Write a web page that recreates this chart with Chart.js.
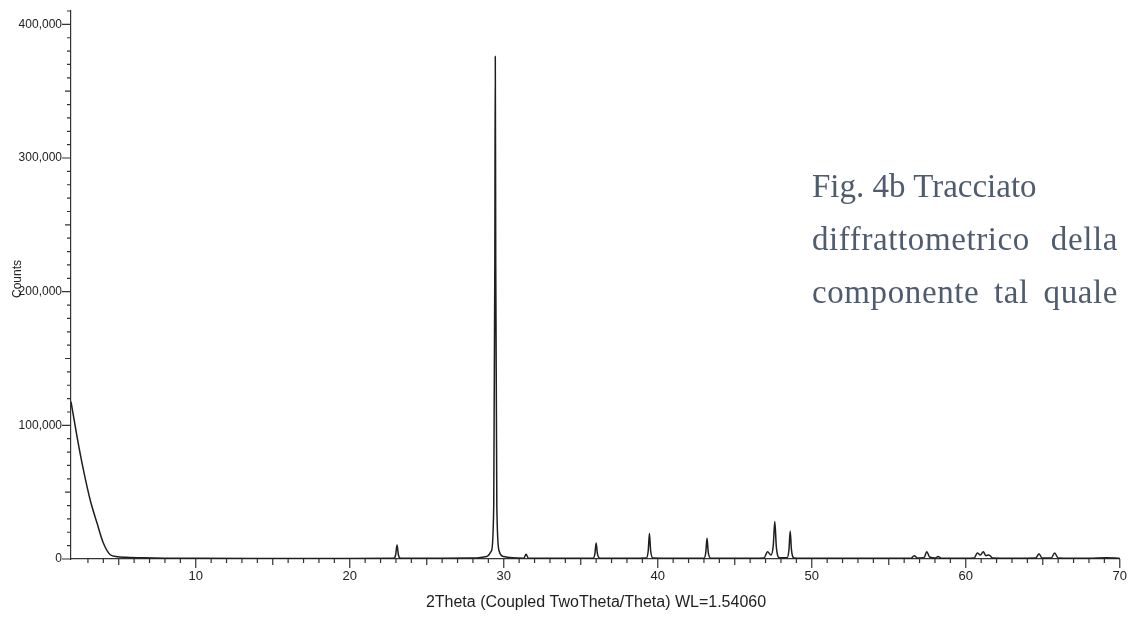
<!DOCTYPE html>
<html>
<head>
<meta charset="utf-8">
<script src="https://cdn.jsdelivr.net/npm/chart.js@4/dist/chart.umd.min.js"></script>
<style>
  html, body { margin:0; padding:0; background:#fff; }
  #wrap { position:relative; width:1128px; height:621px; }
  #note { position:absolute; left:812px; top:160px; width:306px;
          font-family:"Liberation Serif","DejaVu Serif",serif; font-size:33px;
          color:#4f5b6e; line-height:53px; white-space:nowrap; }
  #note div.j { text-align:justify; text-align-last:justify; letter-spacing:0.6px; }
</style>
</head>
<body>
<div id="wrap">
  <canvas id="xrd" width="1128" height="621"></canvas>
  <div id="note">
    <div>Fig. 4b Tracciato</div>
    <div class="j">diffrattometrico della</div>
    <div class="j">componente tal quale</div>
  </div>
</div>
<script>
// XRD pattern
const twoTheta = [
  1.9, 2.3, 2.7, 3.15, 3.6, 4.0, 4.45, 4.9, 5.5, 6.6, 8, 10, 14, 18, 20,
  22.85, 22.98, 23.07, 23.16, 23.3, 26, 28,
  28.9, 29.2, 29.35, 29.42, 29.45, 29.48, 29.55, 29.7, 30.0,
  31.3, 31.45, 31.6, 33,
  35.8, 35.92, 36.0, 36.08, 36.25, 38,
  39.25, 39.38, 39.46, 39.54, 39.7, 41,
  43.0, 43.12, 43.2, 43.28, 43.45, 45,
  46.9, 47.13, 47.35, 47.5, 47.6, 47.7, 47.9,
  48.4, 48.52, 48.6, 48.68, 48.85, 50, 54,
  56.45, 56.65, 56.85, 57.3, 57.47, 57.65, 58.05, 58.2, 58.4, 60,
  60.55, 60.75, 60.95, 61.14, 61.3, 61.5, 61.75, 63,
  64.55, 64.75, 64.95, 65.55, 65.77, 66.0, 68, 69.1, 70
];
const counts = [
  117700, 91000, 67000, 44000, 26500, 12000, 3200, 1700, 1300, 900, 600, 500, 400, 400, 400,
  500, 3000, 10500, 3000, 500, 500, 700,
  1800, 6000, 40000, 220000, 376000, 220000, 40000, 6000, 1800,
  600, 3500, 600, 500,
  600, 4000, 12000, 4000, 600, 500,
  700, 6000, 19000, 6000, 700, 500,
  600, 5000, 15500, 5000, 600, 500,
  800, 5500, 3000, 10000, 28000, 9000, 1000,
  1000, 7000, 21000, 7000, 800, 500, 500,
  600, 2500, 700, 1200, 5500, 1500, 800, 1800, 600, 500,
  800, 4500, 3000, 5500, 2500, 3000, 700, 500,
  700, 4000, 800, 800, 4500, 800, 500, 1000, 500
];
const xLabelTicks = [10, 20, 30, 40, 50, 60, 70];
const yLabelTicks = [0, 100000, 200000, 300000, 400000];
const xTitle = '2Theta (Coupled TwoTheta/Theta) WL=1.54060';
const yTitle = 'Counts';

const axisColor = '#333';

// draws minor/major tick marks and the two axis titles
const xrdDecor = {
  id: 'xrdDecor',
  afterDraw(chart) {
    const ctx = chart.ctx, xs = chart.scales.x, ys = chart.scales.y, a = chart.chartArea;
    ctx.save();
    ctx.strokeStyle = axisColor;
    ctx.lineWidth = 1.2;
    ctx.beginPath();
    xs.ticks.forEach(t => {
      const v = Math.round(t.value);
      if (Math.abs(t.value - v) > 1e-6) return;
      const len = v % 10 === 0 ? 9 : (v % 5 === 0 ? 6 : 4);
      const px = xs.getPixelForValue(v);
      ctx.moveTo(px, a.bottom); ctx.lineTo(px, a.bottom + len);
    });
    ys.ticks.forEach(t => {
      const v = t.value;
      const len = v % 100000 === 0 ? 9 : (v % 50000 === 0 ? 6 : 4);
      const py = ys.getPixelForValue(v);
      ctx.moveTo(a.left - len, py); ctx.lineTo(a.left, py);
    });
    ctx.stroke();

    ctx.fillStyle = '#222';
    ctx.font = '16px "Liberation Sans", Arial, sans-serif';
    ctx.textAlign = 'center';
    ctx.textBaseline = 'middle';
    ctx.fillText(xTitle, 596, 603);
    ctx.translate(18, 279);
    ctx.rotate(-Math.PI / 2);
    ctx.font = '12px "Liberation Sans", Arial, sans-serif';
    ctx.fillText(yTitle, 0, 0);
    ctx.restore();
  }
};

new Chart(document.getElementById('xrd').getContext('2d'), {
  type: 'line',
  data: {
    datasets: [{
      data: twoTheta.map((x, i) => ({ x, y: counts[i] })),
      borderColor: '#1e1e1e',
      borderWidth: 1.5,
      pointRadius: 0,
      cubicInterpolationMode: 'monotone',
      fill: false
    }]
  },
  options: {
    responsive: false,
    animation: false,
    layout: { padding: { left: 0, right: 7, top: 11, bottom: 0 } },
    plugins: { legend: { display: false }, tooltip: { enabled: false } },
    scales: {
      x: {
        type: 'linear', min: 1.9, max: 70,
        ticks: {
          stepSize: 1, autoSkip: false, maxRotation: 0,
          color: '#222', font: { size: 13, family: '"Liberation Sans", Arial' },
          padding: 1,
          callback: v => xLabelTicks.includes(v) ? String(v) : ''
        },
        grid: { drawOnChartArea: false, tickLength: 9, tickColor: 'transparent' },
        border: { display: true, color: axisColor, width: 1.2 },
        afterFit: s => { s.height = 62; }
      },
      y: {
        min: 0, max: 410000,
        ticks: {
          stepSize: 10000, autoSkip: false,
          color: '#222', font: { size: 12, family: '"Liberation Sans", Arial' },
          padding: 0,
          callback: v => yLabelTicks.includes(v) ? v.toLocaleString('en-US') : ''
        },
        grid: { drawOnChartArea: false, tickLength: 9, tickColor: 'transparent' },
        border: { display: true, color: axisColor, width: 1.2 },
        afterFit: s => { s.width = 71; }
      }
    }
  },
  plugins: [xrdDecor]
});
</script>
</body>
</html>
